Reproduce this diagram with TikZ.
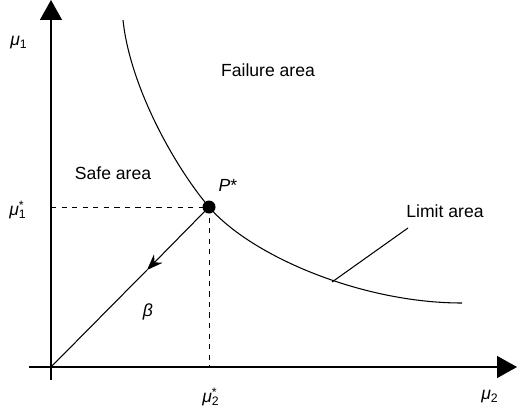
\documentclass[tikz,border=0pt]{standalone}
\usepackage{fontspec}
\setmainfont{Liberation Sans}
\usepackage{tikz}
\usetikzlibrary{arrows.meta}

% mu with subscript index and optional star
\newcommand{\muidx}[2]{\textit{μ}\rlap{\textsuperscript{#2}}\textsubscript{#1}}

\begin{document}
\begin{tikzpicture}[x=0.02cm, y=0.02cm,
    axis/.style={draw, line width=0.8pt, -{Triangle[length=0.4cm, width=0.44cm]}},
    dashline/.style={draw, dashed, line width=0.5pt},
    curve/.style={draw, line width=0.6pt},
    arrow/.style={draw, line width=0.6pt, -{Stealth[length=0.32cm, width=0.24cm]}},
    lbl/.style={font=\fontsize{10}{12}\selectfont, inner sep=0pt}
]
    \useasboundingbox (0,0) rectangle (517,407);

    % Axes
    \coordinate (O) at (51,40);
    \coordinate (ybot) at (51,27);
    \coordinate (ytop) at (51,407);
    \coordinate (xleft) at (29,40);
    \coordinate (xright) at (517,40);
    \draw[axis] (ybot) -- (ytop);
    \draw[axis] (xleft) -- (xright);

    \node[lbl] (mu1) at (19,364) {\muidx{1}{}};
    \node[lbl] (mu2) at (490,10) {\muidx{2}{}};

    % Design point
    \coordinate (P) at (209,200);
    \coordinate (py) at (51,200);
    \coordinate (px) at (209,40);
    \draw[dashline] (py) -- (P);
    \draw[dashline] (P) -- (px);
    \node[lbl] (mu1s) at (18,197) {\muidx{1}{*}};
    \node[lbl] (mu2s) at (211,10) {\muidx{2}{*}};

    % Limit curve
    \coordinate (ctop) at (123,387);
    \coordinate (cend) at (462,104);
    \draw[curve] (ctop) .. controls (130,320) and (175,240) .. (P)
        .. controls (250,152) and (360,104) .. (cend);

    % Reliability index
    \coordinate (m) at (147,137);
    \draw[arrow] (P) -- (m);
    \draw[curve] (m) -- (O);
    \fill (P) circle (6.5);
    \node[lbl] (Plbl) at (228,222) {\textit{P}*};
    \node[lbl] (beta) at (148,95) {\textit{β}};

    % Areas
    \node[lbl] (safe) at (113,234) {Safe area};
    \node[lbl] (fail) at (268,337) {Failure area};
    \node[lbl] (limit) at (445,196) {Limit area};
    \coordinate (lfoot) at (332,125);
    \coordinate (lhead) at (408,179);
    \draw[curve] (lfoot) -- (lhead);
\end{tikzpicture}
\end{document}
